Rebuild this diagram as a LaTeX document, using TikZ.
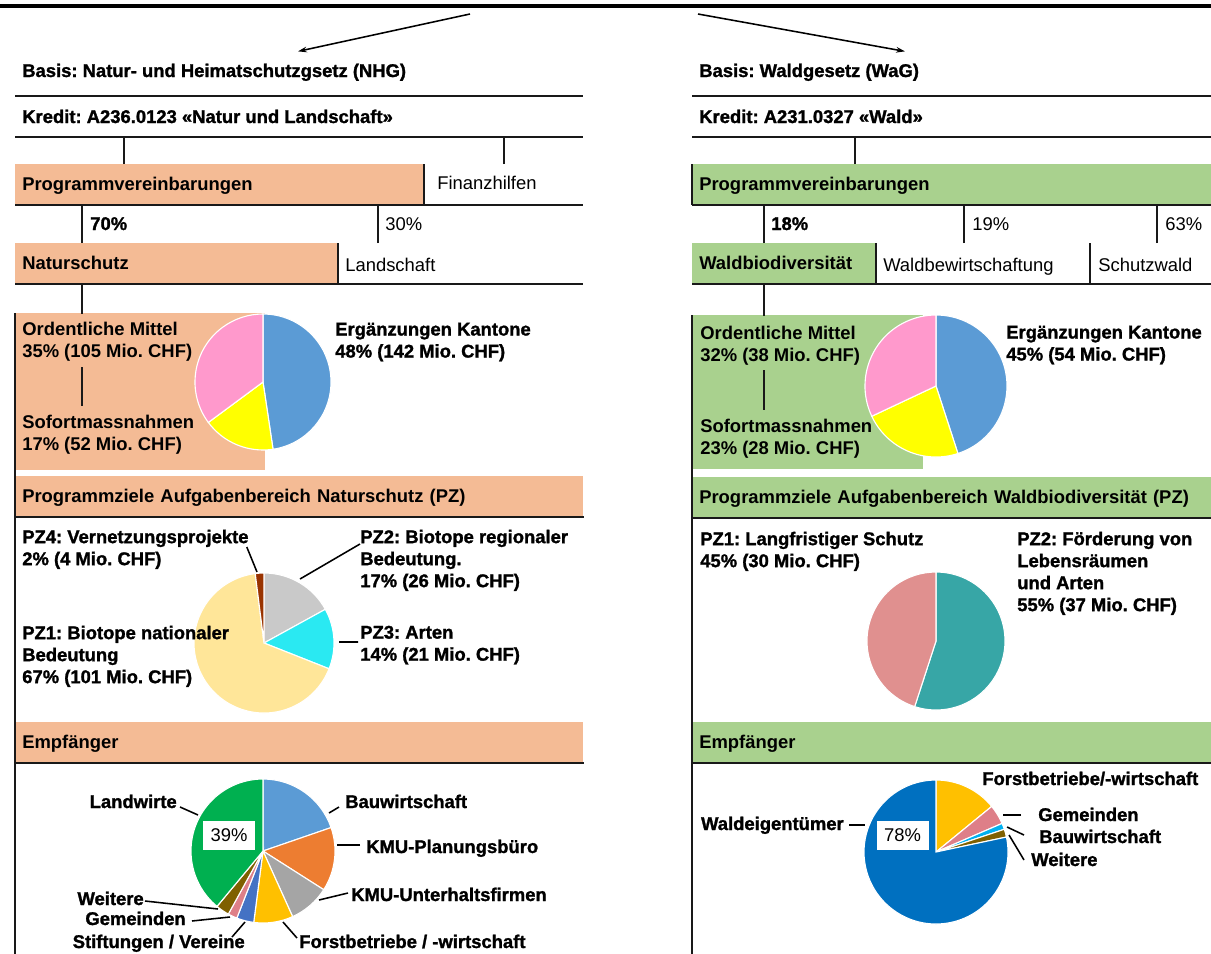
\documentclass[tikz,border=0pt]{standalone}
\usepackage{fontspec}
\setmainfont{Liberation Sans}
\newfontfamily\heavyfont{Liberation Sans}[BoldFeatures={FakeBold=1.4}]
\usepackage{tikz}
\usetikzlibrary{arrows.meta,calc,positioning}
\frenchspacing

\definecolor{nsOrange}{HTML}{F4BB95}
\definecolor{wdGreen}{HTML}{A9D18E}
\definecolor{pieBlue}{HTML}{5B9BD5}
\definecolor{pieYellow}{HTML}{FFFF00}
\definecolor{piePink}{HTML}{FF99CC}
\definecolor{pzGrey}{HTML}{C9C9C9}
\definecolor{pzCyan}{HTML}{2AE9F2}
\definecolor{pzPeach}{HTML}{FFE699}
\definecolor{pzBrown}{HTML}{993300}
\definecolor{pzTeal}{HTML}{37A6A6}
\definecolor{pzRose}{HTML}{E0908F}
\definecolor{rcOrange}{HTML}{ED7D31}
\definecolor{rcGrey}{HTML}{A5A5A5}
\definecolor{rcGold}{HTML}{FFC000}
\definecolor{rcBlue}{HTML}{4472C4}
\definecolor{rcPink}{HTML}{DE7F88}
\definecolor{rcBrown}{HTML}{7F6000}
\definecolor{rcGreen}{HTML}{00B050}
\definecolor{rcCyan}{HTML}{00B0F0}
\definecolor{rcDeep}{HTML}{0070C0}

\newcommand\fReg{\fontsize{13.1}{15.65}\selectfont}
\newcommand\fMed{\fontsize{13.1}{15.65}\selectfont\bfseries}
\newcommand\fHvy{\heavyfont\fontsize{13.1}{15.65}\selectfont\bfseries}
\newcommand\pieSlice[4]{%
  \fill[fill=#4, draw=white, line width=0.8pt] (0,0) -- (#1:#3)
    arc[start angle=#1, end angle=#2, radius=#3] -- cycle;}

\begin{document}
\begin{tikzpicture}[x=0.025cm, y=-0.025cm,
  bar/.style={anchor=north west, inner xsep=0.175cm, inner ysep=0pt, minimum height=1cm,
    text height=0.45cm, text depth=0.125cm, align=left, font=\fMed},
  box/.style={anchor=north west, inner sep=0pt},
  txt/.style={anchor=base west, inner sep=0pt},
  txtE/.style={anchor=base east, inner sep=0pt},
  multi/.style={anchor=north west, inner sep=0pt, align=left},
  sep/.style={line width=1.4pt, draw=black!90},
  conn/.style={line width=1.3pt, draw=black!90},
  lead/.style={line width=1.1pt},
  arr/.style={-{Stealth[length=0.22cm, width=0.14cm]}, line width=1.1pt},
  pct/.style={fill=white, minimum width=1.3cm, minimum height=0.725cm, inner sep=0pt, font=\fReg}
]
\useasboundingbox (0,0) rectangle (1211,954);

% top rule and header arrows
\draw[line width=2.2pt] (0,6) -- (1211,6);
\coordinate (srcL) at (470,14);
\coordinate (srcR) at (698,14);

% rules of the two tables
\foreach \yy in {96,137} {
  \draw[sep] (15,\yy) -- (583,\yy);
  \draw[sep] (692,\yy) -- (1211,\yy);
}

% left: Natur und Landschaft
\node[txt, font=\fHvy] (basL) at (22,77) {Basis: Natur- und Heimatschutzgsetz (NHG)};
\node[txt, font=\fHvy] (kredL) at (22,123) {Kredit: A236.0123 «Natur und Landschaft»};
\node[bar, fill=nsOrange, text width=9.85cm] (pvL) at (15,164) {Programmvereinbarungen};
\node[txt, font=\fReg] (finL) at (437,189) {Finanzhilfen};
\node[txt, font=\fHvy] (p70) at (90,230) {70\%};
\node[txt, font=\fReg] (p30) at (385,230) {30\%};
\node[bar, fill=nsOrange, text width=7.7cm] (natL) at (15,243) {Naturschutz};
\node[txt, font=\fReg] (landL) at (345,271) {Landschaft};
\node[box, fill=nsOrange, minimum width=6.25cm, minimum height=3.925cm] (boxL) at (15,313) {};
\node[bar, fill=nsOrange, text width=13.85cm] (pzL) at (15,476) {Programmziele Aufgabenbereich Naturschutz (PZ)};
\node[bar, fill=nsOrange, text width=13.85cm] (empL) at (15,722) {Empfänger};

\draw[sep] (pvL.south west) -- ++(568,0);
\draw[sep] (natL.south west) -- ++(568,0);
\draw[sep] (pzL.south west) -- (pzL.south east);
\draw[sep] (empL.south west) -- (empL.south east);
\draw[conn] (pvL.north west) ++(109,0) -- ++(0,-27);
\draw[conn] (pvL.north west) ++(489,0) -- ++(0,-27);
\draw[conn] (pvL.north east) -- (pvL.south east);
\draw[conn] (natL.north west) ++(67,0) -- ++(0,-39);
\draw[conn] (natL.north west) ++(363,0) -- ++(0,-39);
\draw[conn] (natL.north east) -- (natL.south east);
\draw[conn] (natL.south west) ++(67,0) -- ++(0,30);
\draw[conn] (boxL.north west) -- ++(0,641);

% right: Wald
\node[txt, font=\fHvy] (basR) at (699,77) {Basis: Waldgesetz (WaG)};
\node[txt, font=\fHvy] (kredR) at (699,123) {Kredit: A231.0327 «Wald»};
\node[bar, fill=wdGreen, text width=12.625cm] (pvR) at (692,164) {Programmvereinbarungen};
\node[txt, font=\fHvy] (p18) at (771,230) {18\%};
\node[txt, font=\fReg] (p19) at (972,230) {19\%};
\node[txt, font=\fReg] (p63) at (1165,230) {63\%};
\node[bar, fill=wdGreen, text width=4.225cm] (wbR) at (692,243) {Waldbiodiversität};
\node[txt, font=\fReg] (bewR) at (883,271) {Waldbewirtschaftung};
\node[txt, font=\fReg] (schR) at (1098,271) {Schutzwald};
\node[box, fill=wdGreen, minimum width=5.775cm, minimum height=3.85cm] (boxR) at (692,315) {};
\node[bar, fill=wdGreen, text width=12.625cm] (pzR) at (692,477) {Programmziele Aufgabenbereich Waldbiodiversität (PZ)};
\node[bar, fill=wdGreen, text width=12.625cm] (empR) at (692,722) {Empfänger};

\draw[sep] (pvR.south west) -- (pvR.south east);
\draw[sep] (wbR.south west) -- ++(519,0);
\draw[sep] (pzR.south west) -- (pzR.south east);
\draw[sep] (empR.south west) -- (empR.south east);
\draw[conn] (pvR.north west) ++(163,0) -- ++(0,-27);
\draw[conn] (pvR.north west) -- (pvR.south west);
\foreach \dx in {72,272,465}
  \draw[conn] (wbR.north west) ++(\dx,0) -- ++(0,-39);
\draw[conn] (wbR.north east) -- (wbR.south east);
\draw[conn] (wbR.north west) ++(398,0) -- ++(0,40);
\draw[conn] (wbR.south west) ++(72,0) -- ++(0,32);
\draw[conn] (boxR.north west) -- ++(0,639);

\draw[arr] (srcL) -- ($(basL.north west)+(276,-12)$);
\draw[arr] (srcR) -- ($(basR.north west)+(206,-12)$);

% pies
\begin{scope}[shift={(263,382)}, yscale=-1]
  \foreach \sa/\sb/\col in {90/-81.5/pieBlue, -81.5/-143.5/pieYellow, -143.5/-270/piePink}
    {\pieSlice{\sa}{\sb}{68}{\col}}
\end{scope}
\begin{scope}[shift={(936,386)}, yscale=-1]
  \foreach \sa/\sb/\col in {90/-72/pieBlue, -72/-154.8/pieYellow, -154.8/-270/piePink}
    {\pieSlice{\sa}{\sb}{71}{\col}}
\end{scope}
\begin{scope}[shift={(264,643)}, yscale=-1]
  \foreach \sa/\sb/\col in {90/28.8/pzGrey, 28.8/-21.6/pzCyan, -21.6/-262.8/pzPeach, -262.8/-270/pzBrown}
    {\pieSlice{\sa}{\sb}{70}{\col}}
\end{scope}
\begin{scope}[shift={(936,641)}, yscale=-1]
  \foreach \sa/\sb/\col in {90/-108/pzTeal, -108/-270/pzRose}
    {\pieSlice{\sa}{\sb}{69}{\col}}
\end{scope}
\begin{scope}[shift={(263,851)}, yscale=-1]
  \foreach \sa/\sb/\col in {90/19/pieBlue, 19/-32.5/rcOrange, -32.5/-65.7/rcGrey, -65.7/-97.4/rcGold,
      -97.4/-111.3/rcBlue, -111.3/-118.8/rcPink, -118.8/-129.7/rcBrown, -129.7/-270/rcGreen}
    {\pieSlice{\sa}{\sb}{72}{\col}}
\end{scope}
\begin{scope}[shift={(936,852)}, yscale=-1]
  \foreach \sa/\sb/\col in {90/39.3/rcGold, 39.3/23.4/rcPink, 23.4/18.4/rcCyan, 18.4/12/rcBrown, 12/-270/rcDeep}
    {\pieSlice{\sa}{\sb}{72}{\col}}
\end{scope}

% left pie labels
\node[multi, font=\fMed] (ordL) at (22,321.5) {Ordentliche Mittel\\35\% (105 Mio. CHF)};
\node[multi, font=\fMed] (sofL) at (22,414.5) {Sofortmassnahmen\\17\% (52 Mio. CHF)};
\node[multi, font=\fHvy] (ergL) at (335,322.5) {Ergänzungen Kantone\\48\% (142 Mio. CHF)};
\draw[conn] (ordL.south west) ++(60,6) -- ++(0,39);

\node[multi, font=\fHvy] (pz4L) at (22,529.5) {PZ4: Vernetzungsprojekte\\2\% (4 Mio. CHF)};
\node[multi, font=\fHvy] (pz2L) at (360,529.5) {PZ2: Biotope regionaler\\Bedeutung.\\17\% (26 Mio. CHF)};
\node[multi, font=\fHvy] (pz1L) at (22,625.5) {PZ1: Biotope nationaler\\Bedeutung\\67\% (101 Mio. CHF)};
\node[multi, font=\fHvy] (pz3L) at (360,625.5) {PZ3: Arten\\14\% (21 Mio. CHF)};
\draw[lead] ($(pz4L.north east)+(-2,17.5)$) -- (257,572);
\draw[lead] ($(pz2L.north west)+(0,14.5)$) -- (300,579);
\draw[lead] ($(pz3L.north west)+(-2,16.5)$) -- (339,642);

\node[pct] (pctL) at (229,835.5) {39\%};
\node[txtE, font=\fHvy] (landw) at (177,808) {Landwirte};
\node[txt, font=\fHvy] (bauL) at (345,808) {Bauwirtschaft};
\node[txt, font=\fHvy] (kmuP) at (366,853) {KMU-Planungsbüro};
\node[txt, font=\fHvy] (kmuU) at (351,901) {KMU-Unterhaltsfirmen};
\node[txt, font=\fHvy] (forL) at (299,948) {Forstbetriebe / -wirtschaft};
\node[txtE, font=\fHvy] (stift) at (245,948) {Stiftungen / Vereine};
\node[txtE, font=\fHvy] (gemL) at (186,925) {Gemeinden};
\node[txtE, font=\fHvy] (weiL) at (144,905) {Weitere};
\draw[lead] ($(landw.base east)+(3,-1)$) -- (198,815);
\draw[lead] ($(bauL.base west)+(-6,-1)$) -- (329,813);
\draw[lead] ($(kmuP.base west)+(-6,-8)$) -- (337,845);
\draw[lead] ($(kmuU.base west)+(-3,-8)$) -- (319,900);
\draw[lead] ($(forL.base west)+(-2,-10)$) -- (283,922);
\draw[lead] ($(stift.base east)+(-13,-11)$) -- (245,922);
\draw[lead] ($(gemL.base east)+(6,-4)$) -- (230,917);
\draw[lead] ($(weiL.base east)+(1,-4)$) -- (218,909);

% right pie labels
\node[multi, font=\fMed] (ordR) at (700,325.5) {Ordentliche Mittel\\32\% (38 Mio. CHF)};
\node[multi, font=\fMed] (sofR) at (700,418.5) {Sofortmassnahmen\\23\% (28 Mio. CHF)};
\node[multi, font=\fHvy] (ergR) at (1006,325.5) {Ergänzungen Kantone\\45\% (54 Mio. CHF)};
\draw[conn] (ordR.south west) ++(64,5) -- ++(0,40);

\node[multi, font=\fHvy] (pz1R) at (700,531.5) {PZ1: Langfristiger Schutz\\45\% (30 Mio. CHF)};
\node[multi, font=\fHvy] (pz2R) at (1017,531.5) {PZ2: Förderung von\\Lebensräumen\\und Arten\\55\% (37 Mio. CHF)};

\node[pct] (pctR) at (902.5,835.5) {78\%};
\node[txtE, font=\fHvy] (waldE) at (844,830) {Waldeigentümer};
\node[txt, font=\fHvy] (forR) at (982,785) {Forstbetriebe/-wirtschaft};
\node[txt, font=\fHvy] (gemR) at (1038,821) {Gemeinden};
\node[txt, font=\fHvy] (bauR) at (1039,843) {Bauwirtschaft};
\node[txt, font=\fHvy] (weiR) at (1031,866) {Weitere};
\draw[lead] ($(waldE.base east)+(5,-5)$) -- (865,825);
\draw[lead] ($(gemR.base west)+(-17,-6)$) -- (1003,815);
\draw[lead] ($(bauR.base west)+(-15,-8)$) -- (1007,827);
\draw[lead] ($(weiR.base west)+(-7,-6)$) -- (1009,835);

\end{tikzpicture}
\end{document}
